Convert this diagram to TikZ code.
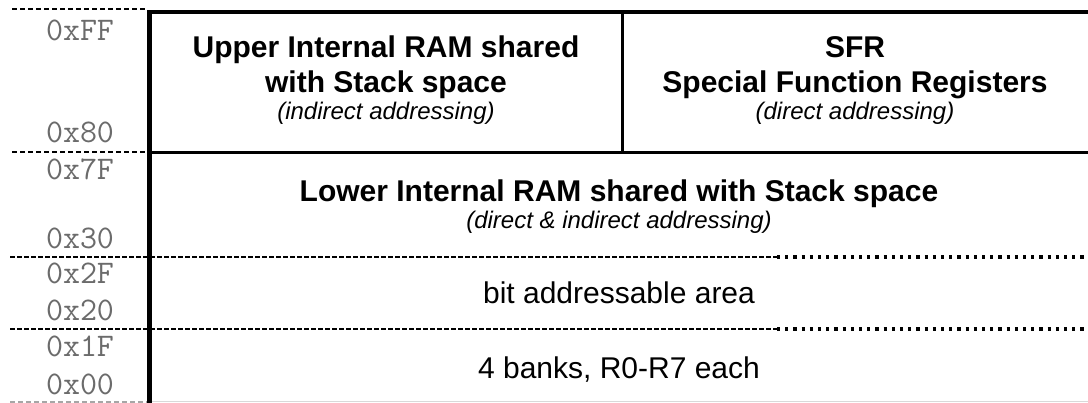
\documentclass[tikz,border=0pt]{standalone}
\usepackage{fontspec}
\setmainfont{Liberation Sans}
\begin{document}
\begin{tikzpicture}[x=1pt,y=-1pt,
  hex/.style={font=\ttfamily\fontsize{33}{33}\selectfont, text=black!58, anchor=base, inner sep=0pt},
  boldlbl/.style={font=\bfseries\fontsize{30}{30}\selectfont, anchor=base, inner sep=0pt},
  itlbl/.style={font=\itshape\fontsize{24}{24}\selectfont, anchor=base, inner sep=0pt},
  reglbl/.style={font=\fontsize{30}{30}\selectfont, anchor=base, inner sep=0pt},
  leftdash/.style={line width=2pt, dash pattern=on 5pt off 3pt},
  finedash/.style={line width=1.5pt, dash pattern=on 5pt off 2pt},
  dotline/.style={line width=3.2pt, dash pattern=on 3.2pt off 5pt},
  frame/.style={line width=4.5pt},
  divider/.style={line width=3pt}]
\useasboundingbox (0,0) rectangle (1088,403);
% coordinates
\coordinate (tl) at (149.5,12);
\coordinate (tr) at (1088,12);
\coordinate (bl) at (149.5,403);
\coordinate (vt) at (622,12);
\coordinate (vb) at (622,153);
\coordinate (ml) at (149.5,153);
\coordinate (mr) at (1088,153);
% dashed address separators on the left
\coordinate (d1a) at (12,9.5);  \coordinate (d1b) at (147,9.5);
\coordinate (d2a) at (12,152);  \coordinate (d2b) at (147,152);
\coordinate (d5a) at (10,402);  \coordinate (d5b) at (147,402);
\draw[leftdash] (d1a) -- (d1b);
\draw[leftdash] (d2a) -- (d2b);
\draw[leftdash, black!35] (d5a) -- (d5b);
\coordinate (b5a) at (150,402); \coordinate (b5b) at (1088,402);
\draw[black!15, line width=1pt] (b5a) -- (b5b);
% lower separators
\coordinate (s1a) at (10,257); \coordinate (s1m) at (777,257); \coordinate (s1b) at (1088,257);
\coordinate (s2a) at (10,329); \coordinate (s2m) at (777,329); \coordinate (s2b) at (1088,329);
\draw[finedash] (s1a) -- (s1m);
\draw[dotline] (s1m) -- (s1b);
\draw[finedash] (s2a) -- (s2m);
\draw[dotline] (s2m) -- (s2b);
% frame
\draw[divider] (ml) -- (mr);
\draw[divider] (vt) -- (vb);
\draw[frame] (tr) -- (tl) -- (bl);
% address labels
\node[hex] (aFF) at (80,41) {0xFF};
\node[hex] (a80) at (80,143) {0x80};
\node[hex] (a7F) at (80,180) {0x7F};
\node[hex] (a30) at (80,249) {0x30};
\node[hex] (a2F) at (80,284) {0x2F};
\node[hex] (a20) at (80,321) {0x20};
\node[hex] (a1F) at (80,357) {0x1F};
\node[hex] (a00) at (80,395) {0x00};
% upper RAM
\node[boldlbl] (u1) at (386,58) {Upper Internal RAM shared};
\node[boldlbl] (u2) at (386,93) {with Stack space};
\node[itlbl] (u3) at (386,120) {(indirect addressing)};
% SFR
\node[boldlbl] (f1) at (855,58) {SFR};
\node[boldlbl] (f2) at (855,93) {Special Function Registers};
\node[itlbl] (f3) at (855,120) {(direct addressing)};
% lower RAM
\node[boldlbl] (l1) at (619,202) {Lower Internal RAM shared with Stack space};
\node[itlbl] (l2) at (619,229) {(direct \& indirect addressing)};
% bit area and banks
\node[reglbl] (b1) at (619,304) {bit addressable area};
\node[reglbl] (r1) at (619,379) {4 banks, R0-R7 each};
\end{tikzpicture}
\end{document}
